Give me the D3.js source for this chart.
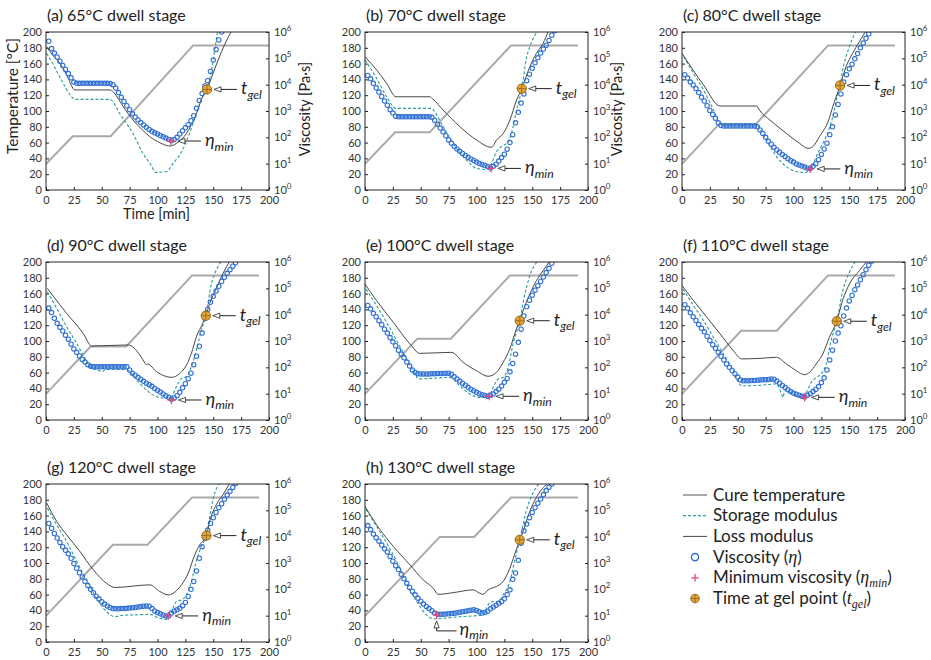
<!DOCTYPE html>
<html>
<head>
<meta charset="utf-8">
<script src="https://cdn.jsdelivr.net/npm/d3@7"></script>
<style>
  body { margin: 0; background: #fff; }
  svg { display: block; }
  text { font-family: Lato, 'Open Sans', sans-serif; }
</style>
</head>
<body>
<svg id="fig" width="931" height="660"></svg>
<script>
/* ---- data ---- */
const panelTitles = [
	'(a) 65°C dwell stage', '(b) 70°C dwell stage', '(c) 80°C dwell stage',
	'(d) 90°C dwell stage', '(e) 100°C dwell stage', '(f) 110°C dwell stage',
	'(g) 120°C dwell stage', '(h) 130°C dwell stage'
]

const xTicks = [0, 25, 50, 75, 100, 125, 150, 175, 200]
const tempTicks = [0, 20, 40, 60, 80, 100, 120, 140, 160, 180, 200]
const viscTicks = [1e0, 1e1, 1e2, 1e3, 1e4, 1e5, 1e6]

// cure temperature trace as drawn [min, °C]
const cureTemp = [
	[[0, 33], [24, 68], [58, 68], [132, 183], [200, 183]],
	[[0, 33], [27, 73], [58, 73], [131, 183], [191, 183]],
	[[0, 33], [33, 83], [66, 83], [131, 183], [191, 183]],
	[[0, 33], [40, 93], [72, 93], [131, 183], [191, 183]],
	[[0, 33], [47, 103], [77, 103], [130, 183], [191, 183]],
	[[0, 33], [53, 113], [85, 113], [131, 183], [191, 183]],
	[[0, 33], [60, 123], [91, 123], [131, 183], [191, 183]],
	[[0, 33], [67, 133], [98, 133], [131, 183], [191, 183]]
]

// storage modulus G' [min, log10 Pa]
const storageLog = [
	[[0.6,5.19],[6.6,4.75],[15.5,4.05],[23,3.54],[26,3.44],[57.4,3.44],[60,3.35],[66,2.91],[78,2.15],[87,1.39],[95,0.89],[98,0.67],[108,0.70],[114,1.01],[121.7,1.46],[127.6,2.03],[135,2.91],[140,3.50],[144.4,3.82],[147,4.25],[150,4.95],[152,5.5],[154,6.05]],
	[[0,4.94],[10.4,4.24],[19.4,3.54],[27.8,3.10],[59.7,3.10],[62,3.0],[70,2.41],[79,1.77],[88,1.27],[94,1.01],[100,0.82],[109,0.78],[113.4,1.01],[118,1.46],[122.4,1.65],[126.9,1.77],[131.3,2.15],[136,3.04],[140.6,3.85],[144.8,5.0],[149.3,5.60],[155,6.05]],
	[[1.5,5.06],[10.4,4.43],[19.3,3.80],[28.2,3.04],[34.2,2.53],[66.9,2.50],[70,2.3],[75.8,1.90],[84.7,1.27],[93.6,0.89],[102.5,0.70],[110,0.66],[115.9,0.82],[120.4,1.27],[124.8,1.65],[129.3,2.03],[135.2,2.78],[139.7,3.65],[141.8,3.97],[144.1,4.55],[150.1,5.44],[156,6.05]],
	[[1.2,4.87],[9.6,4.24],[18.5,3.54],[27.5,2.91],[34.9,2.34],[40.9,1.96],[45,1.92],[51,1.84],[53,1.92],[72,1.92],[81.2,1.52],[90.1,1.14],[99,0.89],[108,0.82],[112.5,0.89],[117,1.27],[121.5,1.58],[126,1.65],[130.4,2.03],[134.9,2.66],[139.4,3.42],[143.3,3.96],[148.4,5.19],[152.8,5.70],[157.3,6.05]],
	[[0.9,4.97],[10.4,4.34],[19.4,3.71],[28.4,3.01],[37.3,2.32],[44.8,1.75],[47.8,1.56],[60,1.58],[76,1.62],[85,1.30],[94,0.99],[103,0.86],[110.4,0.86],[115,1.24],[119.4,1.56],[123.9,1.62],[128.4,2.0],[132.8,2.89],[138.8,3.77],[143,4.7],[148,5.5],[155,6.05]],
	[[0.9,4.97],[10.4,4.34],[19.3,3.77],[28.2,3.14],[37.1,2.51],[46.1,1.87],[50.5,1.43],[53.5,1.30],[70,1.32],[84.7,1.37],[87.7,1.18],[89.5,0.95],[90.6,0.86],[92.1,1.11],[99.6,0.99],[107,0.86],[111.4,1.05],[115.9,1.43],[120.4,1.62],[124.8,1.75],[129.3,2.13],[133.7,3.01],[138.8,3.75],[144.1,4.9],[150.1,5.6],[156,6.05]],
	[[1.2,5.09],[9.6,4.45],[18.5,3.82],[27.5,3.06],[36.4,2.36],[45.4,1.66],[54.3,1.15],[61.8,0.96],[70,1.02],[80,1.03],[93.1,1.05],[102,0.90],[108,0.86],[112.5,1.15],[117,1.54],[121.5,1.60],[126,1.79],[130.4,2.30],[135,3.1],[140,3.7],[143.9,4.04],[147,4.8],[150,5.45],[155.8,6.05]],
	[[0.9,5.03],[10.4,4.39],[19.4,3.76],[28.4,3.06],[37.3,2.23],[46.3,1.54],[55.2,1.03],[61.2,0.88],[70.1,0.90],[85,0.96],[100,1.0],[106,1.03],[110.4,1.41],[115,1.54],[119.4,1.54],[123.9,1.79],[129.9,2.30],[134.3,3.1],[138.8,3.88],[144.8,5.0],[150.7,5.66],[156.7,6.05]]
]

// loss modulus G'' [min, log10 Pa]
const lossLog = [
	[[0.6,5.44],[6,5.12],[12.5,4.81],[18.5,4.37],[26,3.80],[57.4,3.80],[60,3.74],[65,3.45],[70,3.12],[78,2.66],[86,2.30],[93,2.03],[102,1.80],[111,1.67],[117,1.77],[126,2.15],[135,2.91],[140,3.50],[144.4,3.82],[150,4.45],[155,5.0],[160,5.5],[166.5,6.05]],
	[[0,5.06],[10.4,4.56],[19.4,4.05],[27.8,3.54],[58.2,3.54],[61,3.45],[70,3.04],[85,2.41],[100,1.90],[113.4,1.62],[118,1.90],[124,2.15],[130,2.66],[136,3.42],[140.6,3.85],[147.8,4.68],[153.7,5.19],[159.7,5.57],[164.5,6.05]],
	[[0,5.19],[10,4.55],[19.3,3.99],[34.2,3.19],[66.9,3.19],[70,3.0],[78.8,2.66],[93.6,2.15],[105.5,1.77],[113,1.58],[117.4,1.65],[123.3,2.03],[131.6,2.66],[135.2,3.16],[141.8,3.97],[147.1,4.68],[153,5.19],[159,5.63],[165,6.05]],
	[[1.2,5.0],[18.5,4.05],[33.4,3.29],[40.9,2.81],[73.7,2.85],[84.2,2.47],[89,2.15],[90.1,2.09],[91,2.13],[99,1.84],[108,1.65],[112.5,1.62],[120,1.77],[126,2.09],[130.4,2.53],[134.9,3.16],[140.9,3.70],[143.3,3.96],[146.9,4.43],[152.8,5.0],[158.8,5.57],[165,6.05]],
	[[0,5.16],[10.4,4.53],[25.4,3.71],[40.3,2.89],[49.3,2.53],[77.6,2.57],[88,2.19],[100,1.87],[110.4,1.66],[117.9,1.81],[123.9,2.19],[129.9,2.70],[135.8,3.46],[138.8,3.77],[141.8,4.15],[147.8,4.78],[153.7,5.29],[159.7,5.67],[166,6.05]],
	[[0,5.10],[10.4,4.53],[22.3,3.90],[34.2,3.27],[46.1,2.63],[53.5,2.32],[70,2.34],[84.7,2.38],[93.6,2.13],[102.5,1.87],[110,1.72],[114.4,1.81],[120.4,2.13],[126.3,2.51],[132.2,3.14],[138.8,3.75],[144.1,4.55],[150.1,5.16],[159,5.67],[166.4,6.05]],
	[[0.6,5.28],[9.6,4.58],[18.5,4.07],[30.4,3.44],[42.4,2.74],[54.3,2.23],[61.8,2.07],[93.1,2.17],[102,1.92],[109.6,1.79],[114,1.85],[121.5,2.17],[127.5,2.61],[133.4,3.31],[138,3.70],[143.9,4.04],[146.9,4.6],[152.8,5.22],[158.8,5.60],[165,6.05]],
	[[0,5.15],[10.4,4.45],[25.4,3.63],[40.3,2.93],[52.2,2.36],[61.2,2.04],[65.7,1.81],[80,1.88],[97,1.98],[103,1.85],[106,1.81],[110.4,1.98],[117.9,2.11],[123.9,2.30],[129.9,2.80],[134,3.3],[138.8,3.88],[141.8,4.20],[147.8,4.96],[155.2,5.60],[164.5,6.05]]
]

// viscosity sampled every 2.5 min, starting at 2.5 min [log10 Pa·s]
const sampleTimes = [
	2.5, 5, 7.5, 10, 12.5, 15, 17.5, 20, 22.5, 25, 27.5, 30, 32.5, 35, 37.5, 40,
	42.5, 45, 47.5, 50, 52.5, 55, 57.5, 60, 62.5, 65, 67.5, 70, 72.5, 75, 77.5, 80,
	82.5, 85, 87.5, 90, 92.5, 95, 97.5, 100, 102.5, 105, 107.5, 110, 112.5, 115, 117.5, 120,
	122.5, 125, 127.5, 130, 132.5, 135, 137.5, 140, 142.5, 145, 147.5, 150, 152.5, 155, 157.5, 160,
	162.5, 165, 167.5, 170
]

const viscLog = [
	[5.65,5.37,5.20,5.05, 4.89,4.73,4.58,4.42, 4.26,4.10,4.05,4.05, 4.05,4.05,4.05,4.05,
	 4.05,4.05,4.05,4.05, 4.05,4.05,4.04,4.00, 3.87,3.70,3.52,3.36, 3.20,3.05,2.90,2.77,
	 2.66,2.56,2.47,2.38, 2.30,2.23,2.17,2.13, 2.07,2.02,1.97,1.92, 1.88,1.92,2.00,2.13,
	 2.25,2.36,2.48,2.63, 2.82,3.10,3.40,3.66, 3.95,4.15,4.50,4.94, 5.34,5.70,6.00],
	[4.35,4.22,4.05,3.88, 3.72,3.55,3.38,3.22, 3.05,2.92,2.80,2.78, 2.78,2.78,2.78,2.78,
	 2.78,2.78,2.78,2.78, 2.78,2.78,2.78,2.76, 2.65,2.50,2.35,2.21, 2.06,1.90,1.78,1.66,
	 1.56,1.47,1.39,1.31, 1.24,1.18,1.12,1.06, 1.01,0.97,0.93,0.89, 0.84,0.90,0.98,1.10,
	 1.23,1.36,1.55,1.80, 2.10,2.55,2.95,3.30, 3.65,4.15,4.40,4.62, 4.83,5.02,5.20,5.35,
	 5.50,5.68,5.88,6.05],
	[4.38,4.25,4.10,3.99, 3.85,3.70,3.52,3.38, 3.20,3.02,2.87,2.72, 2.55,2.45,2.43,2.43,
	 2.43,2.43,2.43,2.43, 2.43,2.43,2.43,2.43, 2.43,2.43,2.40,2.28, 2.15,2.00,1.85,1.74,
	 1.62,1.52,1.43,1.35, 1.27,1.19,1.12,1.06, 0.99,0.95,0.91,0.87, 0.83,0.82,0.90,1.00,
	 1.15,1.35,1.56,1.78, 2.10,2.40,2.85,3.25, 3.65,4.10,4.38,4.60, 4.78,4.98,5.18,5.40,
	 5.58,5.76,5.93],
	[4.25,4.08,3.86,3.67, 3.52,3.38,3.22,3.07, 2.88,2.70,2.57,2.43, 2.30,2.20,2.10,2.04,
	 2.02,2.02,2.02,2.02, 2.02,2.02,2.02,2.02, 2.02,2.02,2.02,2.02, 2.02,1.90,1.78,1.70,
	 1.62,1.55,1.47,1.40, 1.34,1.28,1.20,1.13, 1.06,0.99,0.92,0.86, 0.79,0.84,0.92,1.05,
	 1.22,1.38,1.57,1.78, 2.10,2.42,2.80,3.30, 3.85,4.20,4.47,4.70, 4.90,5.08,5.26,5.42,
	 5.57,5.71,5.84,5.97],
	[4.35,4.22,4.05,3.92, 3.77,3.62,3.45,3.30, 3.13,2.97,2.82,2.65, 2.50,2.36,2.20,2.05,
	 1.90,1.80,1.76,1.75, 1.75,1.75,1.75,1.76, 1.76,1.77,1.77,1.77, 1.78,1.78,1.74,1.64,
	 1.56,1.48,1.40,1.32, 1.24,1.17,1.11,1.05, 1.00,0.96,0.93,0.90, 0.93,0.99,1.08,1.17,
	 1.29,1.43,1.58,1.83, 2.15,2.50,2.95,3.45, 3.95,4.30,4.55,4.74, 4.93,5.10,5.26,5.43,
	 5.60,5.76,5.95],
	[4.38,4.24,4.07,3.92, 3.78,3.63,3.48,3.35, 3.18,3.02,2.86,2.72, 2.57,2.42,2.28,2.13,
	 2.00,1.88,1.75,1.63, 1.52,1.49,1.49,1.49, 1.50,1.50,1.51,1.52, 1.53,1.53,1.54,1.56,
	 1.55,1.48,1.40,1.31, 1.23,1.15,1.08,1.02, 0.98,0.94,0.90,0.87, 0.94,1.00,1.08,1.16,
	 1.27,1.42,1.60,1.90, 2.28,2.65,3.00,3.30, 3.58,3.95,4.25,4.52, 4.73,4.95,5.13,5.33,
	 5.52,5.71,5.88,6.03],
	[4.50,4.32,4.12,3.95, 3.78,3.62,3.48,3.35, 3.18,2.98,2.80,2.63, 2.47,2.30,2.15,2.00,
	 1.87,1.74,1.63,1.53, 1.44,1.37,1.31,1.27, 1.26,1.26,1.27,1.27, 1.28,1.29,1.30,1.31,
	 1.33,1.35,1.36,1.37, 1.36,1.27,1.18,1.12, 1.07,1.03,0.99,0.99, 1.10,1.17,1.22,1.28,
	 1.38,1.50,1.73,2.00, 2.30,2.70,3.18,3.62, 3.95,4.25,4.50,4.72, 4.92,5.10,5.25,5.42,
	 5.58,5.72,5.87,6.02],
	[4.42,4.27,4.10,3.96, 3.83,3.68,3.54,3.42, 3.25,3.07,2.90,2.75, 2.57,2.40,2.23,2.07,
	 1.93,1.79,1.66,1.55, 1.44,1.35,1.27,1.19, 1.10,1.05,1.05,1.05, 1.06,1.07,1.08,1.09,
	 1.11,1.13,1.15,1.17, 1.19,1.21,1.22,1.20, 1.15,1.10,1.12,1.17, 1.26,1.33,1.40,1.47,
	 1.54,1.64,1.80,1.98, 2.38,2.62,3.10,3.75, 4.22,4.48,4.72,4.92, 5.10,5.27,5.43,5.60,
	 5.75,5.88,6.00]
]

// minimum viscosity and gel point [min, log10 Pa·s]
const minPoint = [[112, 1.86], [113, 0.82], [115, 0.80], [112.5, 0.76], [111.3, 0.90], [110, 0.86], [109.6, 0.99], [64.2, 1.03]]
const gelPoint = [[144.4, 3.82], [140.6, 3.85], [141.8, 3.97], [143.3, 3.96], [138.8, 3.77], [138.8, 3.75], [143.9, 4.04], [138.8, 3.88]]

const legendLabels = ['Cure temperature', 'Storage modulus', 'Loss modulus', 'Viscosity', 'Minimum viscosity', 'Time at gel point']

/* ---- layout ---- */
const PW = 223
const PH = 158
const colX = [46, 365, 682]
const rowY = [32, 262, 484]

const COLORS = {
	cure: '#a9a9a9',
	storage: '#2a9d9b',
	loss: '#474747',
	visc: '#2e6fd3',
	min: '#e3487a',
	gel: '#e5a43d',
	gelStroke: '#8c6414',
	axis: '#222',
	tick: '#333'
}
const SERIF = "'Liberation Serif', 'DejaVu Serif', serif"

const $svg = d3.select('#fig')

const x = d3.scaleLinear().domain([0, 200]).range([0, PW])
const yTemp = d3.scaleLinear().domain([0, 200]).range([PH, 0])
const yVisc = d3.scaleLog().domain([1, 1e6]).range([PH, 0])

$svg.append('defs').append('clipPath').attr('id', 'plotClip')
	.append('rect').attr('width', PW).attr('height', PH)

const cureLine = d3.line().x(d => x(d[0])).y(d => yTemp(d[1]))
const modLine = d3.line()
	.x(d => x(d[0]))
	.y(d => yVisc(Math.pow(10, d[1])))
	.curve(d3.curveMonotoneX)

function symbolText($parent, tx, ty, main, sub, size = 18) {
	const $t = $parent.append('text')
		.attr('x', tx).attr('y', ty)
		.attr('font-family', SERIF)
		.attr('font-style', 'italic')
		.attr('fill', '#222')
	$t.append('tspan').attr('font-size', size).text(main)
	$t.append('tspan').attr('font-size', size * 0.68).attr('dy', size * 0.25).text(sub)
	return $t
}

// arrow with open head pointing left to a marker, label to its right
function arrowLabel($g, px, py, main, sub) {
	const tip = px + 7
	$g.append('line')
		.attr('x1', tip + 6).attr('x2', tip + 23)
		.attr('y1', py).attr('y2', py)
		.attr('stroke', '#222').attr('stroke-width', 1)
	$g.append('path')
		.attr('d', `M${tip},${py}L${tip + 7},${py - 2.6}L${tip + 7},${py + 2.6}Z`)
		.attr('fill', '#fff').attr('stroke', '#222').attr('stroke-width', 0.8)
	symbolText($g, tip + 27, py + 5, main, sub)
}

// arrow pointing up to a marker, bending right to the label
function arrowLabelBelow($g, px, py, main, sub) {
	const tip = py + 6
	$g.append('path')
		.attr('d', `M${px},${tip + 6}V${py + 16}H${px + 20}`)
		.attr('fill', 'none').attr('stroke', '#222').attr('stroke-width', 1)
	$g.append('path')
		.attr('d', `M${px},${tip}L${px - 2.6},${tip + 7}L${px + 2.6},${tip + 7}Z`)
		.attr('fill', '#fff').attr('stroke', '#222').attr('stroke-width', 0.8)
	symbolText($g, px + 23, py + 20, main, sub)
}

function gelMarker($g, cx, cy, r = 4.7) {
	$g.append('circle').attr('cx', cx).attr('cy', cy).attr('r', r)
		.attr('fill', COLORS.gel).attr('stroke', COLORS.gelStroke).attr('stroke-width', 0.9)
	$g.append('path')
		.attr('d', `M${cx - r},${cy}H${cx + r}M${cx},${cy - r}V${cy + r}`)
		.attr('stroke', COLORS.gelStroke).attr('stroke-width', 0.8)
}

function minMarker($g, cx, cy, s = 4) {
	$g.append('path')
		.attr('d', `M${cx - s},${cy}H${cx + s}M${cx},${cy - s}V${cy + s}`)
		.attr('stroke', COLORS.min).attr('stroke-width', 1.3)
}

function styleAxis($axis) {
	$axis.select('.domain').remove()
	$axis.attr('font-family', null).attr('font-size', null)
	$axis.selectAll('.tick line').attr('stroke', COLORS.axis)
	$axis.selectAll('.tick text')
		.attr('font-size', 11)
		.attr('fill', COLORS.tick)
}

/* ---- panels ---- */
panelTitles.forEach((title, i) => {
	const $g = $svg.append('g')
		.attr('transform', `translate(${colX[i % 3]}, ${rowY[Math.floor(i / 3)]})`)

	$g.append('text')
		.attr('x', 1).attr('y', -11)
		.attr('font-size', 16)
		.attr('fill', '#222')
		.text(title)

	// axes, ticks pointing inward
	const $xAxis = $g.append('g')
		.attr('transform', `translate(0, ${PH})`)
		.call(d3.axisBottom(x).tickValues(xTicks).tickSize(-3).tickPadding(6))
	styleAxis($xAxis)

	const $yAxis = $g.append('g')
		.call(d3.axisLeft(yTemp).tickValues(tempTicks).tickSize(-3).tickPadding(4))
	styleAxis($yAxis)

	const $vAxis = $g.append('g')
		.attr('transform', `translate(${PW}, 0)`)
		.call(d3.axisRight(yVisc).tickValues(viscTicks).tickSize(-3).tickPadding(5).tickFormat(''))
	styleAxis($vAxis)
	$vAxis.selectAll('.tick text').each(function (d) {
		const $t = d3.select(this)
		$t.append('tspan').text('10')
		$t.append('tspan').attr('dy', -5).attr('font-size', 8).text(Math.round(Math.log10(d)))
	})

	const $plot = $g.append('g').attr('clip-path', 'url(#plotClip)')

	$plot.append('path')
		.attr('d', cureLine(cureTemp[i]))
		.attr('fill', 'none')
		.attr('stroke', COLORS.cure)
		.attr('stroke-width', 2)

	$plot.append('path')
		.attr('d', modLine(storageLog[i]))
		.attr('fill', 'none')
		.attr('stroke', COLORS.storage)
		.attr('stroke-width', 1.1)
		.attr('stroke-dasharray', '3,2')

	$plot.append('path')
		.attr('d', modLine(lossLog[i]))
		.attr('fill', 'none')
		.attr('stroke', COLORS.loss)
		.attr('stroke-width', 1)

	$plot.selectAll('circle.visc')
		.data(viscLog[i].map((v, k) => [sampleTimes[k], v]))
		.enter()
		.append('circle')
		.attr('class', 'visc')
		.attr('cx', d => x(d[0]))
		.attr('cy', d => yVisc(Math.pow(10, d[1])))
		.attr('r', 2.2)
		.attr('fill', 'none')
		.attr('stroke', COLORS.visc)
		.attr('stroke-width', 1.1)

	$g.append('rect')
		.attr('width', PW).attr('height', PH)
		.attr('fill', 'none')
		.attr('stroke', COLORS.axis)
		.attr('stroke-width', 1)

	const mx = x(minPoint[i][0])
	const my = yVisc(Math.pow(10, minPoint[i][1]))
	minMarker($g, mx, my)
	if (i === 7) arrowLabelBelow($g, mx, my, 'η', 'min')
	else arrowLabel($g, mx, my, 'η', 'min')

	const gx = x(gelPoint[i][0])
	const gy = yVisc(Math.pow(10, gelPoint[i][1]))
	gelMarker($g, gx, gy)
	arrowLabel($g, gx, gy, 't', 'gel')

	// axis titles
	if (i === 0) {
		$g.append('text')
			.attr('transform', `translate(-33, ${64}) rotate(-90)`)
			.attr('text-anchor', 'middle')
			.attr('dy', '0.35em')
			.attr('font-size', 15.5)
			.attr('fill', '#222')
			.text('Temperature  [°C]')
		$g.append('text')
			.attr('x', PW / 2 - 1).attr('y', PH + 29)
			.attr('text-anchor', 'middle')
			.attr('font-size', 14.5)
			.attr('fill', '#222')
			.text('Time  [min]')
	}
	if (i < 2) {
		$g.append('text')
			.attr('transform', `translate(${PW + (i === 0 ? 36 : 29)}, ${77}) rotate(-90)`)
			.attr('text-anchor', 'middle')
			.attr('dy', '0.35em')
			.attr('font-size', 14.5)
			.attr('fill', '#222')
			.text('Viscosity  [Pa·s]')
	}
})

/* ---- legend ---- */
const $legend = $svg.append('g').attr('transform', 'translate(683, 495)')
const rowGap = 20.7
legendLabels.forEach((label, k) => {
	const $row = $legend.append('g').attr('transform', `translate(0, ${k * rowGap})`)
	if (k === 0) {
		$row.append('line').attr('x2', 24).attr('stroke', COLORS.cure).attr('stroke-width', 2)
	} else if (k === 1) {
		$row.append('line').attr('x2', 24).attr('stroke', COLORS.storage).attr('stroke-width', 1.2).attr('stroke-dasharray', '3,2')
	} else if (k === 2) {
		$row.append('line').attr('x2', 24).attr('stroke', COLORS.loss).attr('stroke-width', 1)
	} else if (k === 3) {
		$row.append('circle').attr('cx', 12).attr('r', 3.6).attr('fill', 'none').attr('stroke', COLORS.visc).attr('stroke-width', 1.4)
	} else if (k === 4) {
		minMarker($row, 12, 0, 3.8)
	} else {
		gelMarker($row, 12, 0, 4.3)
	}

	const $t = $row.append('text')
		.attr('x', 30).attr('y', 5.5)
		.attr('font-size', 17)
		.attr('fill', '#222')
		.text(label)
	if (k >= 3) {
		const sym = k === 3 ? ['η', ''] : k === 4 ? ['η', 'min'] : ['t', 'gel']
		$t.append('tspan').text(' (')
		$t.append('tspan').attr('font-family', SERIF).attr('font-style', 'italic').attr('font-size', 18).text(sym[0])
		if (sym[1]) {
			$t.append('tspan').attr('font-family', SERIF).attr('font-style', 'italic').attr('font-size', 12).attr('dy', 4).text(sym[1])
			$t.append('tspan').attr('dy', -4).text(')')
		} else {
			$t.append('tspan').text(')')
		}
	}
})
</script>
</body>
</html>
